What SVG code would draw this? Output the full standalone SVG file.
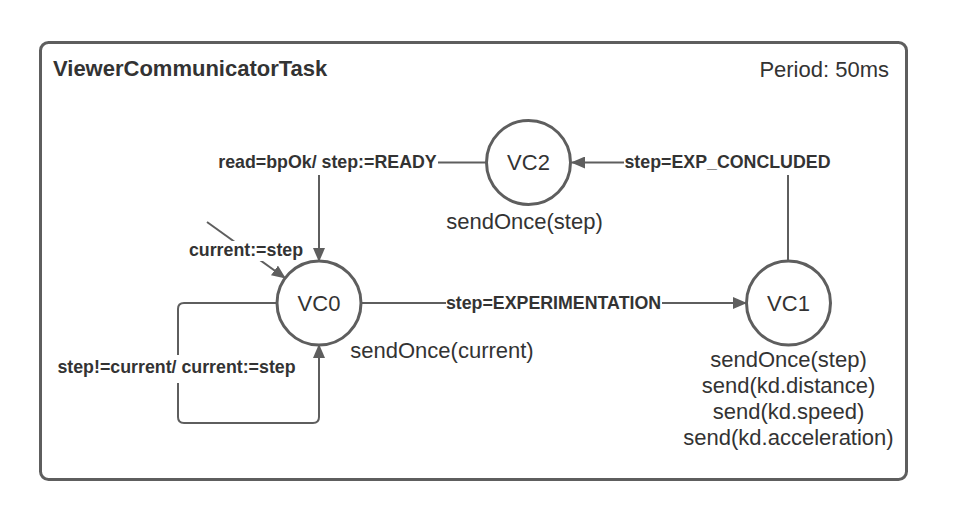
<svg xmlns="http://www.w3.org/2000/svg" width="968" height="520" viewBox="0 0 968 520">
<style>
.frame{fill:#ffffff;stroke:#5e5e5e;stroke-width:3}
.state{fill:#ffffff;stroke:#5e5e5e;stroke-width:3}
.edge{fill:none;stroke:#5e5e5e;stroke-width:2}
.bg{fill:#ffffff;stroke:none}
.t{font-family:"Liberation Sans",Arial,sans-serif;fill:#333333}
.n{font-size:22px;text-anchor:middle}
.lbl{font-size:17.8px;font-weight:bold;text-anchor:middle}
.title{font-size:22px;font-weight:bold}
</style>
<defs>
<marker id="arr" markerUnits="userSpaceOnUse" markerWidth="14" markerHeight="12" refX="13" refY="6" orient="auto">
<path d="M0,0 L14,6 L0,12 Z" fill="#5e5e5e"/>
</marker>
</defs>
<rect width="968" height="520" fill="#ffffff"/>
<g id="frame">
<rect class="frame" x="40.5" y="42.5" width="866" height="437" rx="8"/>
<text class="t title" x="53" y="76">ViewerCommunicatorTask</text>
<text class="t" x="889" y="77" font-size="22" text-anchor="end">Period: 50ms</text>
</g>
<g id="connectors">
<g id="e-vc0-vc1">
<path class="edge" d="M361,303 H746" marker-end="url(#arr)"/>
<rect class="bg" x="446" y="292" width="216" height="22"/>
<text class="t lbl" x="553.5" y="309">step=EXPERIMENTATION</text>
</g>
<g id="e-vc1-vc2">
<path class="edge" d="M788,261 V162.5 H572" marker-end="url(#arr)"/>
<rect class="bg" x="624" y="150" width="210" height="25"/>
<text class="t lbl" x="727.5" y="168">step=EXP_CONCLUDED</text>
</g>
<g id="e-vc2-vc0">
<path class="edge" d="M486,162.5 H319 V261" marker-end="url(#arr)"/>
<rect class="bg" x="217" y="150" width="221" height="25"/>
<text class="t lbl" x="327.5" y="168">read=bpOk/ step:=READY</text>
</g>
<g id="e-self">
<path class="edge" d="M277,303 H184 Q178,303 178,309 V417 Q178,423 184,423 H313 Q319,423 319,417 V345" marker-end="url(#arr)"/>
<rect class="bg" x="56" y="355" width="242" height="28"/>
<text class="t lbl" x="176.5" y="373">step!=current/ current:=step</text>
</g>
<g id="e-init">
<path class="edge" d="M207,222 L285,278" marker-end="url(#arr)"/>
<rect class="bg" x="188" y="241" width="116" height="20"/>
<text class="t lbl" x="246" y="256">current:=step</text>
</g>
</g>
<g id="VC0">
<circle class="state" cx="319" cy="303" r="42"/>
<text class="t n" x="319" y="311">VC0</text>
<text class="t n" x="442" y="358">sendOnce(current)</text>
</g>
<g id="VC1">
<circle class="state" cx="788.5" cy="303" r="42"/>
<text class="t n" x="788.5" y="311">VC1</text>
<text class="t n" x="788.5" y="367">sendOnce(step)</text>
<text class="t n" x="788.5" y="393">send(kd.distance)</text>
<text class="t n" x="788.5" y="419">send(kd.speed)</text>
<text class="t n" x="788.5" y="445">send(kd.acceleration)</text>
</g>
<g id="VC2">
<circle class="state" cx="528.5" cy="162.5" r="42"/>
<text class="t n" x="528.5" y="170">VC2</text>
<text class="t n" x="524.5" y="229">sendOnce(step)</text>
</g>
</svg>
